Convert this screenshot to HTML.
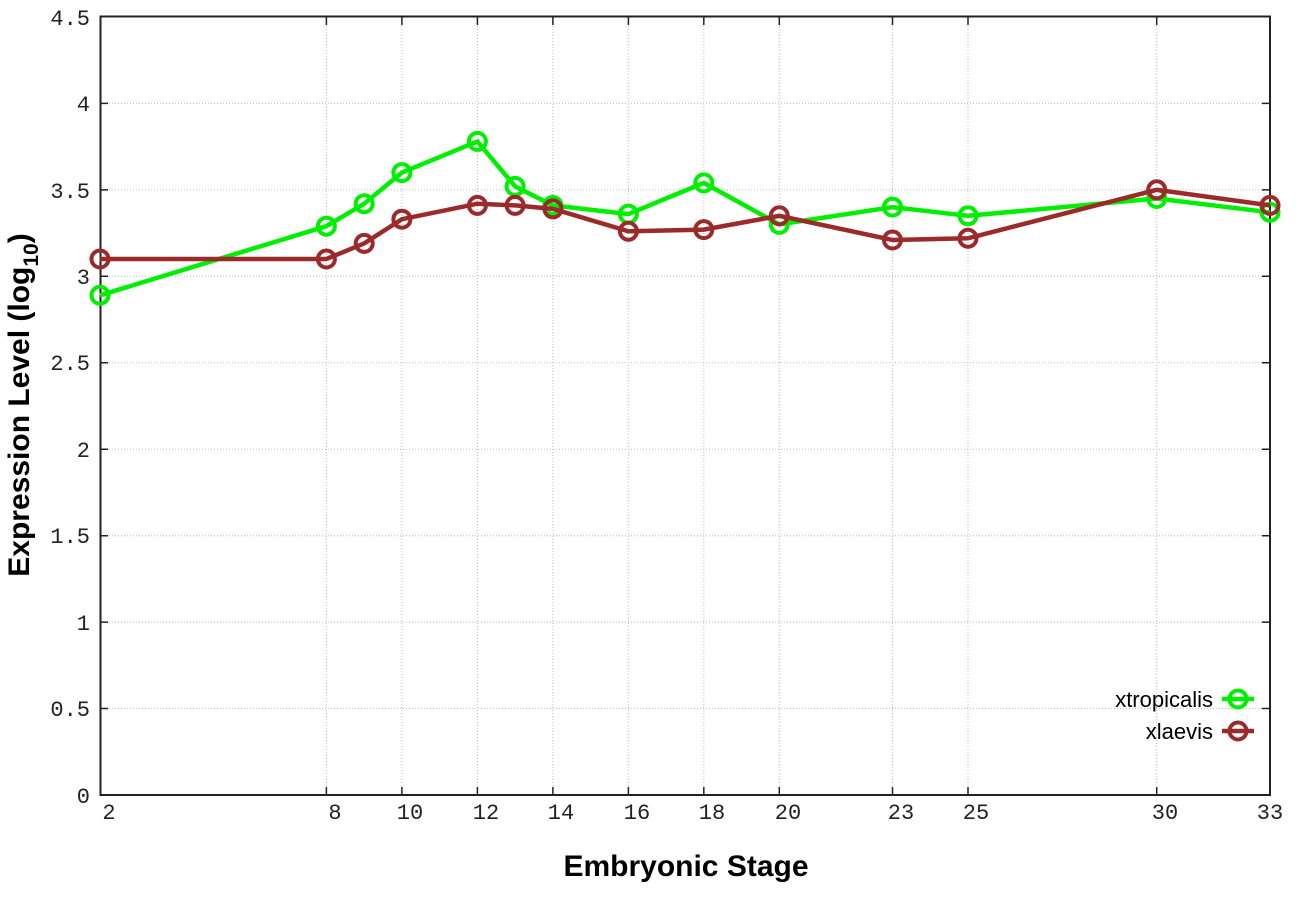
<!DOCTYPE html>
<html><head><meta charset="utf-8"><style>body{margin:0;background:#fff}svg{display:block}</style></head><body>
<svg width="1296" height="907" xmlns="http://www.w3.org/2000/svg">
<rect width="1296" height="907" fill="#fff"/>
<g stroke="#bbb" stroke-width="1" stroke-dasharray="1,2">
<line x1="100" x2="1270" y1="708.5" y2="708.5"/><line x1="100" x2="1270" y1="622.1" y2="622.1"/><line x1="100" x2="1270" y1="535.7" y2="535.7"/><line x1="100" x2="1270" y1="449.2" y2="449.2"/><line x1="100" x2="1270" y1="362.8" y2="362.8"/><line x1="100" x2="1270" y1="276.3" y2="276.3"/><line x1="100" x2="1270" y1="189.9" y2="189.9"/><line x1="100" x2="1270" y1="103.4" y2="103.4"/>
<line x1="326.4" x2="326.4" y1="17" y2="795"/><line x1="401.9" x2="401.9" y1="17" y2="795"/><line x1="477.4" x2="477.4" y1="17" y2="795"/><line x1="552.9" x2="552.9" y1="17" y2="795"/><line x1="628.4" x2="628.4" y1="17" y2="795"/><line x1="703.8" x2="703.8" y1="17" y2="795"/><line x1="779.3" x2="779.3" y1="17" y2="795"/><line x1="892.5" x2="892.5" y1="17" y2="795"/><line x1="968" x2="968" y1="17" y2="795"/><line x1="1156.7" x2="1156.7" y1="17" y2="795"/>
</g>
<rect x="100.5" y="16.5" width="1169.5" height="778.5" fill="none" stroke="#222" stroke-width="2"/>
<g stroke="#222" stroke-width="1.5">
<path d="M100 708.5h8M100 622.1h8M100 535.7h8M100 449.2h8M100 362.8h8M100 276.3h8M100 189.9h8M100 103.4h8M1270 708.5h-8M1270 622.1h-8M1270 535.7h-8M1270 449.2h-8M1270 362.8h-8M1270 276.3h-8M1270 189.9h-8M1270 103.4h-8"/>
<path d="M326.4 795v-8M401.9 795v-8M477.4 795v-8M552.9 795v-8M628.4 795v-8M703.8 795v-8M779.3 795v-8M892.5 795v-8M968 795v-8M1156.7 795v-8M326.4 17v8M401.9 17v8M477.4 17v8M552.9 17v8M628.4 17v8M703.8 17v8M779.3 17v8M892.5 17v8M968 17v8M1156.7 17v8"/>
</g>
<g font-family="Liberation Mono, monospace" font-size="22" fill="#222" text-anchor="end">
<text x="90" y="803">0</text><text x="90" y="716">0.5</text><text x="90" y="630">1</text><text x="90" y="543">1.5</text><text x="90" y="457">2</text><text x="90" y="370">2.5</text><text x="90" y="284">3</text><text x="90" y="198">3.5</text><text x="90" y="111">4</text><text x="90" y="25">4.5</text>
</g>
<g font-family="Liberation Mono, monospace" font-size="22" fill="#222" text-anchor="middle">
<text x="109" y="819">2</text><text x="335" y="819">8</text><text x="410" y="819">10</text><text x="486" y="819">12</text><text x="561" y="819">14</text><text x="637" y="819">16</text><text x="712" y="819">18</text><text x="788" y="819">20</text><text x="901" y="819">23</text><text x="976" y="819">25</text><text x="1165" y="819">30</text><text x="1270" y="819">33</text>
</g>
<text x="686" y="876" font-family="Liberation Sans, sans-serif" font-weight="bold" font-size="30" text-anchor="middle">Embryonic Stage</text>
<text transform="translate(29,405) rotate(-90)" font-family="Liberation Sans, sans-serif" font-weight="bold" font-size="30" text-anchor="middle">Expression Level (log<tspan font-size="21" dy="9">10</tspan><tspan dy="-9">)</tspan></text>
<g fill="none" stroke="#00ee00" stroke-width="4.5">
<polyline points="100,295.3 326.4,226.2 364.2,203.7 401.9,172.6 477.4,141.4 515.1,186.4 552.9,205.4 628.4,214.1 703.8,182.9 779.3,224.4 892.5,207.1 968,215.8 1156.7,198.5 1270,212.3"/>
<g stroke-width="4"><circle cx="100" cy="295.3" r="8.5"/><circle cx="326.4" cy="226.2" r="8.5"/><circle cx="364.2" cy="203.7" r="8.5"/><circle cx="401.9" cy="172.6" r="8.5"/><circle cx="477.4" cy="141.4" r="8.5"/><circle cx="515.1" cy="186.4" r="8.5"/><circle cx="552.9" cy="205.4" r="8.5"/><circle cx="628.4" cy="214.1" r="8.5"/><circle cx="703.8" cy="182.9" r="8.5"/><circle cx="779.3" cy="224.4" r="8.5"/><circle cx="892.5" cy="207.1" r="8.5"/><circle cx="968" cy="215.8" r="8.5"/><circle cx="1156.7" cy="198.5" r="8.5"/><circle cx="1270" cy="212.3" r="8.5"/></g>
</g>
<g fill="none" stroke="#9b2a2a" stroke-width="4.5">
<polyline points="100,259 326.4,259 364.2,243.4 401.9,219.2 477.4,203.7 515.1,205.4 552.9,208.9 628.4,231.3 703.8,229.6 779.3,215.8 892.5,240 968,238.3 1156.7,189.8 1270,205.4"/>
<g stroke-width="4"><circle cx="100" cy="259" r="8.5"/><circle cx="326.4" cy="259" r="8.5"/><circle cx="364.2" cy="243.4" r="8.5"/><circle cx="401.9" cy="219.2" r="8.5"/><circle cx="477.4" cy="205.4" r="8.5"/><circle cx="515.1" cy="205.4" r="8.5"/><circle cx="552.9" cy="208.9" r="8.5"/><circle cx="628.4" cy="231.3" r="8.5"/><circle cx="703.8" cy="229.6" r="8.5"/><circle cx="779.3" cy="215.8" r="8.5"/><circle cx="892.5" cy="240" r="8.5"/><circle cx="968" cy="238.3" r="8.5"/><circle cx="1156.7" cy="189.8" r="8.5"/><circle cx="1270" cy="205.4" r="8.5"/></g>
</g>
<g font-family="Liberation Sans, sans-serif" font-size="22" fill="#000" text-anchor="end">
<text x="1213" y="707">xtropicalis</text><text x="1213" y="739">xlaevis</text>
</g>
<g fill="none" stroke-width="4.5">
<path d="M1222 699h32" stroke="#00ee00"/><circle cx="1238" cy="699" r="8.5" stroke="#00ee00" stroke-width="4"/>
<path d="M1222 731h32" stroke="#9b2a2a"/><circle cx="1238" cy="731" r="8.5" stroke="#9b2a2a" stroke-width="4"/>
</g>
</svg>
</body></html>
